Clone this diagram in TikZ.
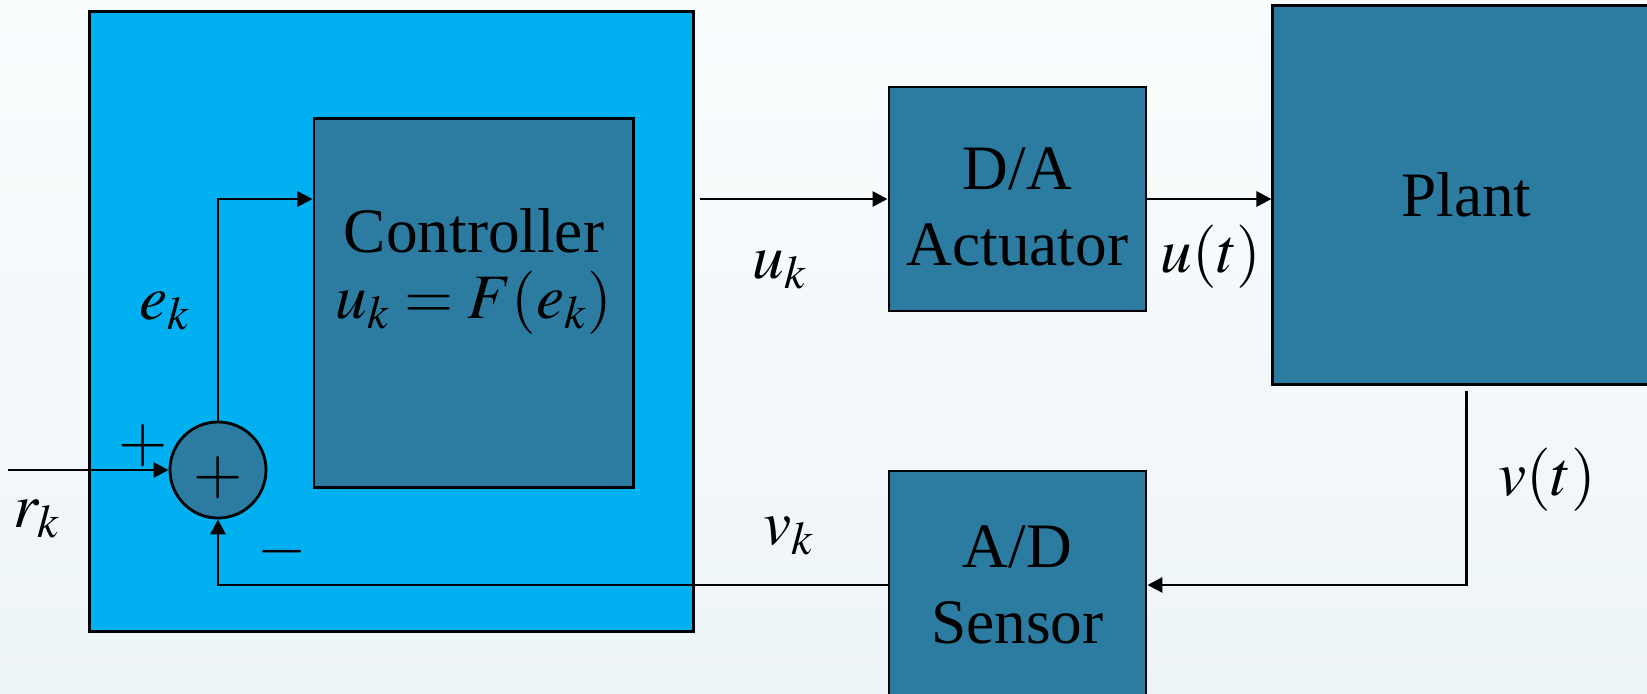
\documentclass[tikz,border=0pt]{standalone}
\usepackage{mathptmx}
\usepackage{fontspec}
\setmainfont{Liberation Serif}
\usetikzlibrary{arrows.meta,calc}

\definecolor{ctrlcyan}{RGB}{0,176,240}
\definecolor{blockblue}{RGB}{44,123,160}
\definecolor{bgtop}{RGB}{250,253,254}
\definecolor{bgbottom}{RGB}{237,244,248}

\begin{document}
\begin{tikzpicture}[x=0.01cm,y=-0.01cm,
    font=\fontsize{18}{21.8}\selectfont,
    block/.style={draw,line width=0.8pt,fill=blockblue,align=center,inner sep=0pt},
    sig/.style={line width=0.8pt,-{Triangle[length=0.15cm,width=0.15cm]}}]

    % Background
    \fill[top color=bgtop,bottom color=bgbottom] (0,0) rectangle (1647,693);
    \useasboundingbox (0,0) rectangle (1647,693);

    % Draw the digital controller part
    \node[draw,line width=0.8pt,fill=ctrlcyan,minimum width=6.03cm,minimum height=6.19cm] (outer) at (391.5,321.5) {};
    \node[block,minimum width=3.19cm,minimum height=3.68cm] (ctrl) at (473.5,303) {};
    \node[align=center] (ctrltext) at (474,271) {Controller\\[-3pt]$u_k=F(e_k)$};
    \node[block,circle,minimum size=0.96cm] (sum) at (218,470) {};
    \node (sumsign) at (218,478) {$+$};

    % Draw the blocks outside
    \node[block,minimum width=2.57cm,minimum height=2.24cm] (da) at (1017.5,199) {};
    \node[align=center] (datext) at (1017.5,207) {D/A\\Actuator};
    \node[block,minimum width=3.87cm,minimum height=3.78cm] (plant) at (1466.5,195) {Plant};
    \node[block,minimum width=2.57cm,minimum height=2.28cm] (ad) at (1017.5,585) {A/D\\Sensor};

    % Forward path
    \coordinate (rin) at (8,470);
    \draw[sig] (rin) -- (sum.west);
    \draw[sig] (sum.north) |- (ctrl.west |- da.west);
    \draw[sig] ($(outer.east |- da.west)+(5,0)$) -- (da.west);
    \draw[sig] (da.east) -- (plant.west |- da.east);

    % Feedback path
    \draw[sig] ($(plant.south)+(0,5)$) |- (ad.east);
    \draw[sig] (ad.west) -| (sum.south);

    % Signal labels
    \node (plus) at (143,446) {$+$};
    \node (minus) at (282,552) {$-$};
    \node (rk) at (37,519) {$r_k$};
    \node (ek) at (165,311) {$e_k$};
    \node (uk) at (780,270) {$u_k$};
    \node (vk) at (789,536) {$v_k$};
    \node (ut) at (1211,257) {$u(t)$};
    \node (vt) at (1547,480) {$v(t)$};
\end{tikzpicture}
\end{document}
